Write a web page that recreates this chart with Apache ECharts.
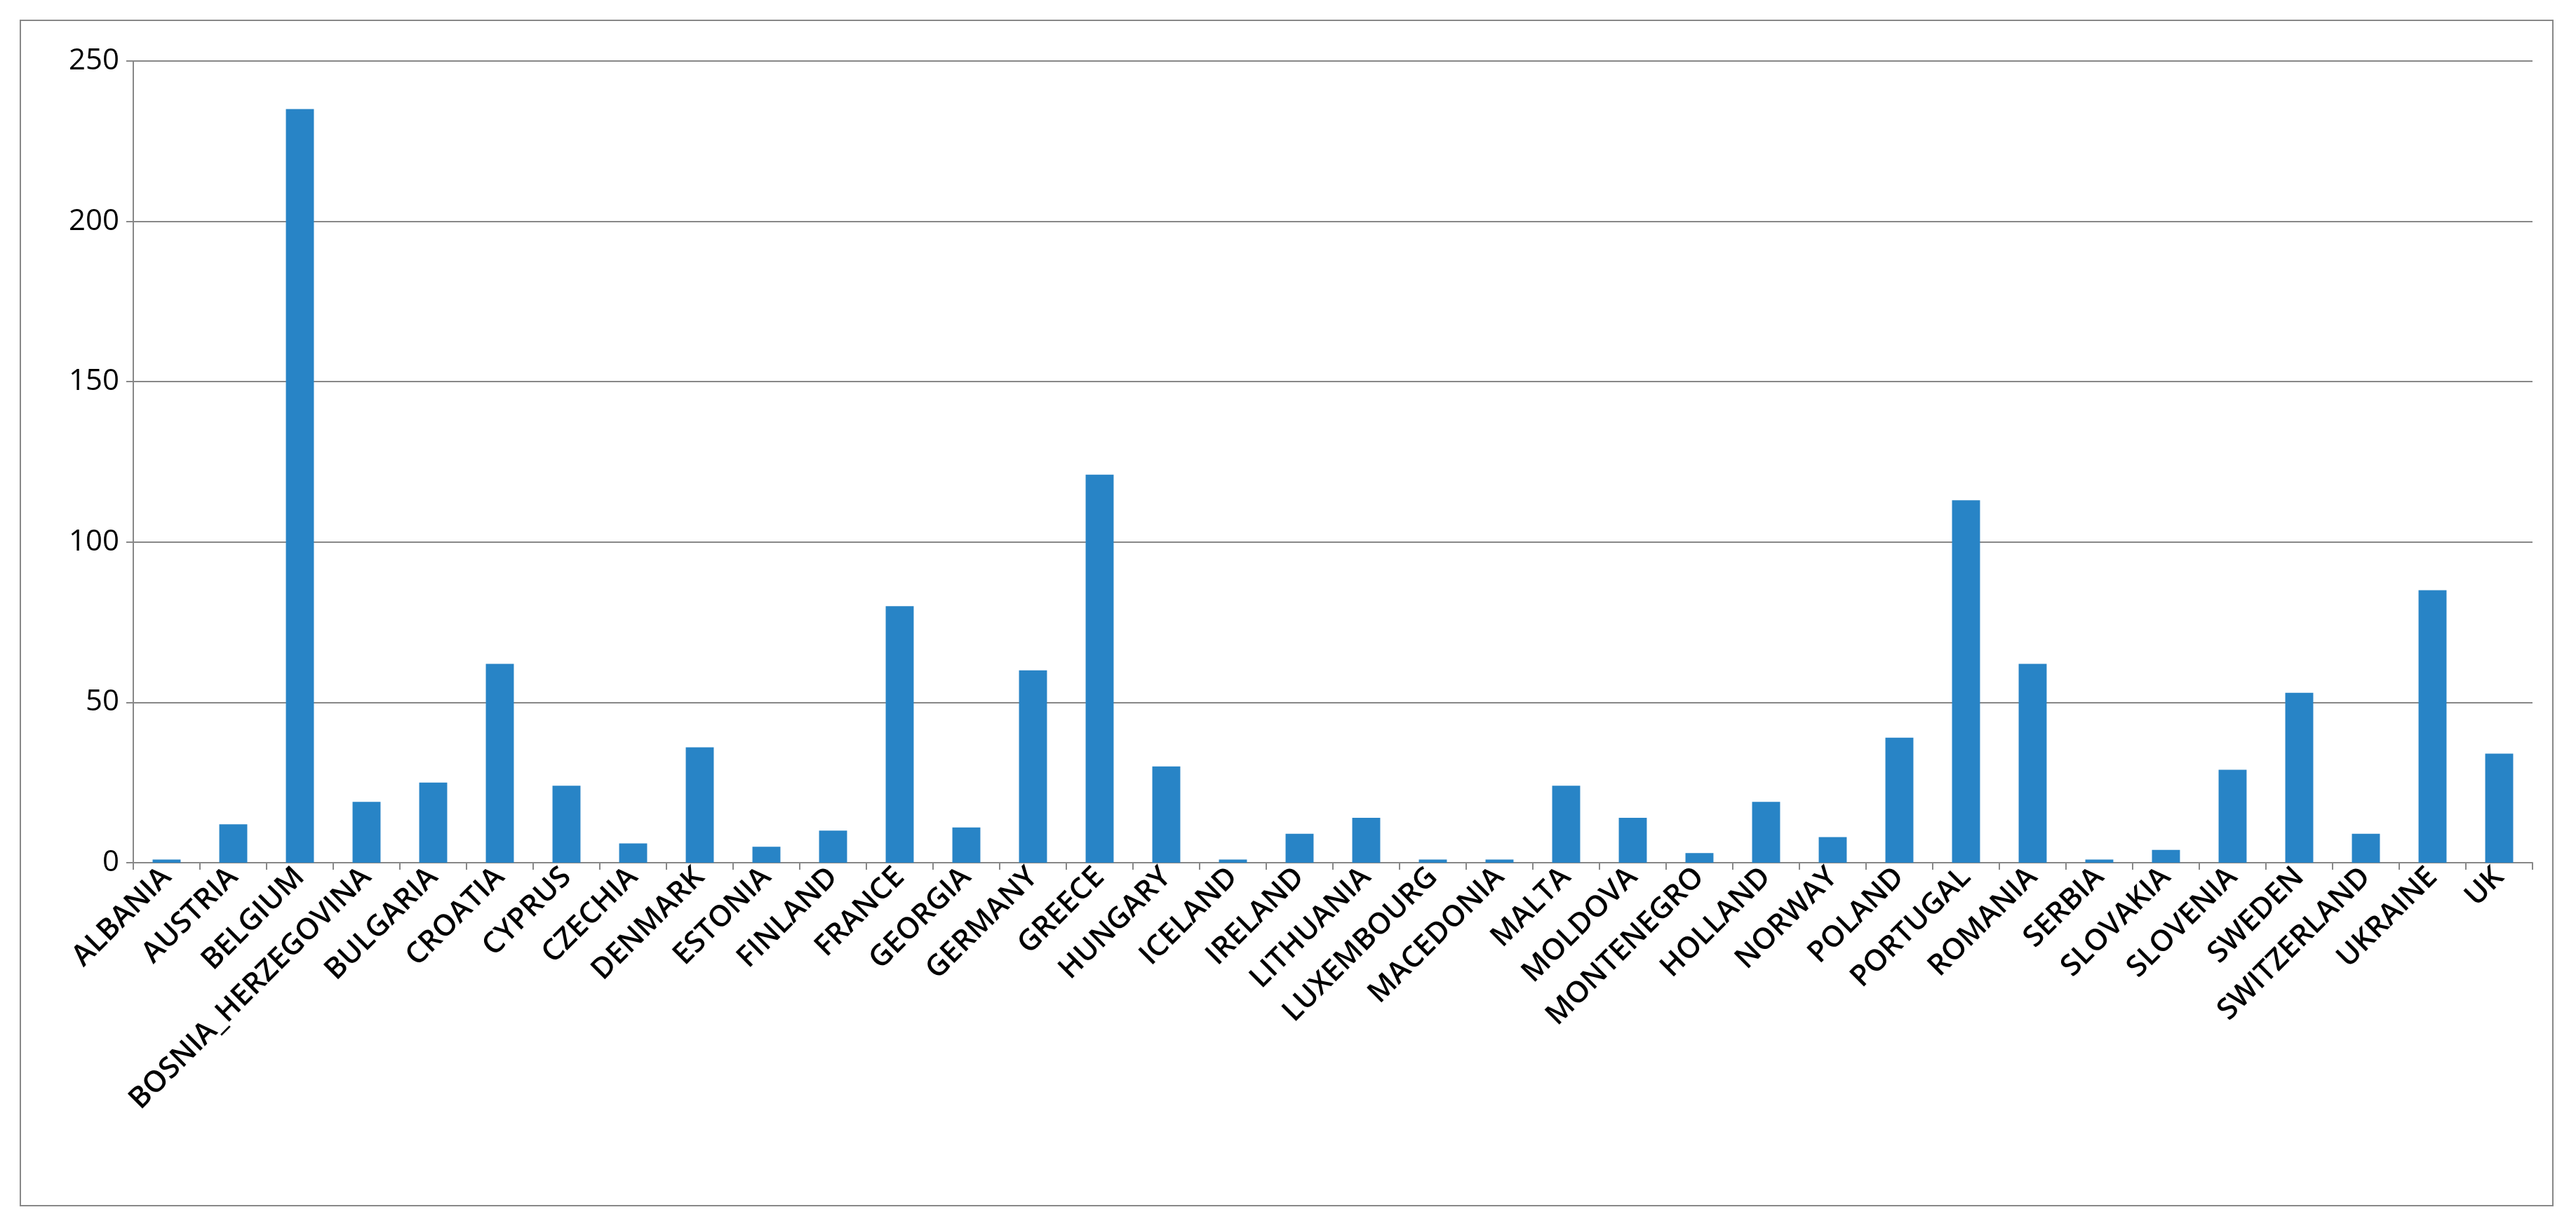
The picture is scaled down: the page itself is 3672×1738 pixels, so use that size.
<!DOCTYPE html>
<html>
<head>
<meta charset="utf-8">
<script src="https://cdn.jsdelivr.net/npm/echarts@6/dist/echarts.min.js"></script>
<style>
html,body{margin:0;padding:0;background:#fff;}
#frame{position:absolute;left:28px;top:28px;width:3612px;height:1692px;border:2px solid #888;box-sizing:border-box;}
#chart{position:absolute;left:0;top:0;width:3672px;height:1738px;}
</style>
</head>
<body>
<div id="frame"></div>
<div id="chart"></div>
<script>
var countries = ['ALBANIA','AUSTRIA','BELGIUM','BOSNIA_HERZEGOVINA','BULGARIA','CROATIA','CYPRUS','CZECHIA','DENMARK','ESTONIA','FINLAND','FRANCE','GEORGIA','GERMANY','GREECE','HUNGARY','ICELAND','IRELAND','LITHUANIA','LUXEMBOURG','MACEDONIA','MALTA','MOLDOVA','MONTENEGRO','HOLLAND','NORWAY','POLAND','PORTUGAL','ROMANIA','SERBIA','SLOVAKIA','SLOVENIA','SWEDEN','SWITZERLAND','UKRAINE','UK'];
var values = [1,12,235,19,25,62,24,6,36,5,10,80,11,60,121,30,1,9,14,1,1,24,14,3,19,8,39,113,62,1,4,29,53,9,85,34];

var chart = echarts.init(document.getElementById('chart'));
chart.setOption({
	animation:false,
	grid:{left:190,right:62,top:87,bottom:508},
	xAxis:{
		type:'category',
		data:countries,
		axisLine:{lineStyle:{color:'#888',width:2}},
		axisTick:{show:true,length:10,lineStyle:{color:'#888',width:2}},
		axisLabel:{rotate:45,interval:0,fontFamily:'Open Sans',fontWeight:600,fontSize:42,color:'#000',margin:14}
	},
	yAxis:{
		type:'value',min:0,max:250,interval:50,
		axisLine:{show:true,lineStyle:{color:'#888',width:2}},
		axisTick:{show:true,length:10,lineStyle:{color:'#888',width:2}},
		splitLine:{lineStyle:{color:'#888',width:2}},
		axisLabel:{fontFamily:'Open Sans',fontSize:42,color:'#000',margin:20}
	},
	series:[{type:'bar',data:values,barWidth:'42%',itemStyle:{color:'#2884C6'}}]
});
</script>
</body>
</html>
